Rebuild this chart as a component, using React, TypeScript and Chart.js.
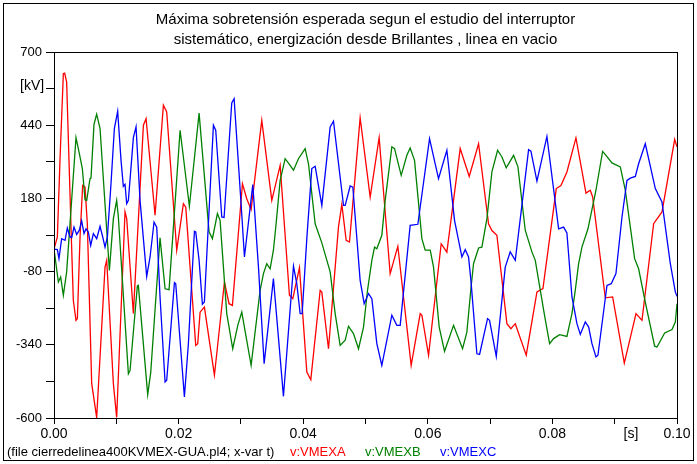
import React, { useEffect, useRef } from 'react';
import { Chart, registerables } from 'chart.js';

Chart.register(...registerables);

const FONT = '"Liberation Sans", Arial, sans-serif';

const TITLE_LINES = [
  'Máxima sobretensión esperada segun el estudio del interruptor',
  'sistemático, energización desde Brillantes , linea en vacio',
];
const Y_UNIT = '[kV]';
const X_UNIT = '[s]';
const FILE_NOTE = '(file cierredelinea400KVMEX-GUA.pl4; x-var t)';
const SERIES_NAMES = ['v:VMEXA', 'v:VMEXB', 'v:VMEXC'];
const SERIES_COLORS = ['#ff0000', '#008000', '#0000ff'];

const Y_MIN = -600;
const Y_MAX = 700;
const Y_STEP = 130;
const X_MIN = 0;
const X_MAX = 0.1;
const X_STEP = 0.01;

// [time in ms, voltage in kV]
const vmexA: [number, number][] = [
  [0, 0], [0.54, 43], [0.96, 315], [1.5, 623], [1.71, 625], [2.03, 593], [2.68, 114], [3.1, -182],
  [3.53, -253], [3.75, -247], [4.18, 43], [4.6, 226], [4.98, 220], [5.35, 90], [6.05, -478], [6.85, -598],
  [8.19, -64], [8.46, -40], [9.53, -478], [10.06, -598], [11.4, 132], [11.67, 108], [12.74, -229],
  [14.35, 440], [14.78, 463], [16.22, 120], [17.56, 511], [18.09, 487], [19.7, -4], [20.77, 161],
  [21.15, 149], [22.75, -342], [23.07, -336], [23.45, -224], [24.14, -206], [25.75, -448], [27.36, -117],
  [28.1, -194], [28.64, -200], [30.25, 232], [30.94, 179], [31.64, 140], [33.35, 457], [34.96, 173],
  [36.3, 297], [37.79, -164], [38.33, -176], [39.4, -66], [40.58, -437], [41.22, -464], [42.72, -147],
  [42.99, -153], [44.06, -354], [45.66, 78], [46.2, 159], [46.9, 31], [47.43, 25], [49.14, 466],
  [50.75, 185], [52.19, 396], [53.96, -87], [55.19, 10], [57.33, -413], [58.78, -229], [59.05, -235],
  [60.12, -377], [62.15, 19], [63.06, -11], [65.2, 357], [66.65, 258], [68.15, 374], [69.75, 90],
  [70.29, 66], [71.09, 49], [72.7, -265], [73.34, -283], [74.04, -265], [75.8, -377], [77.52, -152],
  [78.48, -140], [80.62, 215], [81.37, 226], [82.33, 274], [83.78, 395], [85.39, 199], [86.08, 209],
  [86.46, 185], [88.49, -173], [89.67, -170], [91.54, -405], [93.42, -229], [94.38, -253], [96.25, 90],
  [97.59, 132], [99.63, 390], [100, 363],
];

const vmexB: [number, number][] = [
  [0, 0], [0.7, -117], [1.07, -99], [1.5, -164], [2.03, -81], [3.53, 396], [4.07, 339], [4.55, 286],
  [4.98, 175], [5.25, 173], [5.78, 250], [5.94, 252], [6.42, 443], [6.85, 479], [7.39, 428], [8.89, -76],
  [9.53, 108], [10.06, 173], [10.33, 114], [11.94, -443], [12.21, -431], [13.38, -131], [13.54, -129],
  [15.04, -517], [15.52, -440], [17.02, 40], [17.83, -141], [18.47, -144], [20.24, 422], [21.73, 152],
  [23.29, 483], [24.89, 61], [25.43, 37], [26.23, 126], [26.66, 102], [27.73, -229], [28.69, -354],
  [29.5, -271], [30.14, -224], [31.64, -413], [33.08, -147], [33.62, -87], [34.15, -52], [34.69, -70],
  [35.22, -4], [35.65, 90], [36.3, 244], [37.1, 321], [37.9, 297], [38.44, 280], [39.24, 321],
  [40.31, 357], [40.85, 303], [41.92, 90], [42.99, 22], [44.33, -81], [45.13, -229], [45.93, -342],
  [46.74, -324], [47.27, -274], [48.07, -300], [48.88, -354], [49.68, -277], [50.32, -147], [51.02, -40],
  [51.45, 7], [51.82, 1], [52.62, 49], [53.16, 173], [54.23, 363], [54.66, 357], [55.73, 262],
  [56.64, 333], [57.17, 359], [57.87, 315], [59.05, 37], [59.58, -4], [60.39, -4], [60.92, -64],
  [61.83, -277], [62.69, -363], [64.13, -271], [65.58, -354], [66.27, -295], [66.92, -141], [67.34, -52],
  [68.15, 4], [68.68, 7], [69.49, 108], [70.29, 274], [71.2, 351], [71.9, 327], [72.59, 289], [73.77, 333],
  [74.47, 292], [75.64, 67], [76.71, -10], [77.25, -40], [78.69, -229], [79.55, -336], [80.19, -318],
  [81.16, -304], [82.33, -310], [83.14, -229], [83.67, -147], [84.21, -52], [84.74, 7], [85.71, 72],
  [86.99, 209], [88.06, 347], [88.6, 333], [89.56, 306], [90.9, 292], [91.7, 209], [93.2, -34],
  [93.84, -70], [94.91, -188], [96.41, -345], [96.79, -348], [98.02, -298], [99.2, -286], [99.73, -259],
  [100, -194],
];

const vmexC: [number, number][] = [
  [0, 0], [0.54, -2], [0.8, -34], [1.23, 37], [1.77, 31], [2.14, 75], [2.57, 43], [2.84, 41], [3.21, 78],
  [3.64, 52], [4.07, 67], [4.44, 100], [4.82, 55], [5.14, 72], [5.51, 61], [5.89, 13], [6.32, 55],
  [6.85, 37], [7.39, 81], [7.82, 43], [8.19, 7], [8.57, 43], [9.15, 232], [9.69, 428], [10.22, 489],
  [10.76, 315], [11.13, 223], [11.4, 230], [11.67, 161], [11.94, 173], [12.74, 396], [13.17, 434],
  [13.81, 173], [14.88, -97], [15.42, -28], [16.06, 96], [16.49, 78], [17.02, -170], [17.83, -472],
  [18.09, -466], [19.33, -119], [19.54, -123], [20.93, -525], [21.57, -336], [22.54, 63], [22.75, 61],
  [23.29, -40], [23.82, -196], [24.14, -188], [25.59, 440], [25.96, 422], [26.93, 114], [27.3, 112],
  [28.53, 519], [28.91, 534], [30.03, 161], [30.57, -28], [31.91, 229], [32.82, -64], [33.73, -407],
  [35.22, -105], [36.83, -523], [38.44, -61], [38.97, -123], [39.51, -229], [39.83, -229], [40.58, 37],
  [41.38, 286], [41.92, 294], [42.99, 155], [44.33, 434], [44.86, 454], [46.47, 155], [46.74, 155],
  [47.54, 224], [47.97, 220], [49.14, -111], [49.79, -194], [50.48, -158], [51.02, -176], [51.82, -336],
  [52.62, -413], [54.23, -235], [55.03, -271], [55.57, -271], [57.17, 84], [58.4, 88], [60.28, 392],
  [61.72, 250], [63.06, 351], [64.29, 102], [65.47, -28], [66.01, -2], [66.54, -28], [66.92, -111],
  [67.88, -372], [68.31, -374], [69.59, -247], [69.91, -253], [70.99, -381], [72.43, -64], [73.23, -10],
  [74.04, -40], [76.18, 353], [76.55, 348], [77.52, 241], [79.12, 400], [81.0, 72], [81.8, 78],
  [82.33, 57], [83.14, -170], [83.94, -265], [84.48, -303], [85.28, -259], [85.82, -277], [86.35, -336],
  [86.99, -383], [87.31, -377], [88.76, -129], [89.45, -123], [90.2, -87], [91.17, 114], [91.97, 244],
  [92.51, 252], [93.31, 258], [93.84, 303], [94.91, 374], [96.52, 215], [97.59, 167], [98.93, -52],
  [99.73, -152], [100, -168],
];

const SERIES = [vmexA, vmexB, vmexC];

const decorPlugin = {
  id: 'decor',
  afterDraw(chart: any) {
    const { ctx, chartArea: a } = chart;
    ctx.save();
    ctx.strokeStyle = '#000';
    ctx.lineWidth = 1;
    ctx.strokeRect(Math.round(a.left) + 0.5, Math.round(a.top) + 0.5, Math.round(a.right - a.left), Math.round(a.bottom - a.top));
    ctx.strokeRect(3.5, 3.5, 690, 457);
    ctx.fillStyle = '#000';
    ctx.font = `15px ${FONT}`;
    ctx.textBaseline = 'middle';
    ctx.textAlign = 'center';
    const cx = (a.left + a.right) / 2;
    ctx.fillText(TITLE_LINES[0], cx, 20);
    ctx.fillText(TITLE_LINES[1], cx, 40);
    ctx.font = `14px ${FONT}`;
    ctx.textAlign = 'left';
    ctx.fillText(Y_UNIT, 20, 86);
    ctx.textAlign = 'center';
    ctx.fillText(X_UNIT, 631, 434);
    ctx.font = `13px ${FONT}`;
    ctx.textAlign = 'left';
    ctx.fillText(FILE_NOTE, 7, 452);
    const nameX = [290, 365, 440];
    SERIES_NAMES.forEach((n, i) => {
      ctx.fillStyle = SERIES_COLORS[i];
      ctx.fillText(n, nameX[i], 452);
    });
    ctx.restore();
  },
};

export default function App() {
  const ref = useRef<HTMLCanvasElement>(null);
  useEffect(() => {
    if (!ref.current) return;
    const chart = new Chart(ref.current, {
      type: 'line',
      data: {
        datasets: SERIES.map((s, i) => ({
          label: SERIES_NAMES[i],
          data: s.map(([t, v]) => ({ x: t / 1000, y: v })),
          borderColor: SERIES_COLORS[i],
          backgroundColor: SERIES_COLORS[i],
          borderWidth: 1.3,
          pointRadius: 0,
          tension: 0,
          fill: false,
          order: 3 - i,
        })),
      },
      options: {
        responsive: false,
        animation: false,
        devicePixelRatio: 1,
        layout: { padding: { left: 0, top: 52, right: 20, bottom: 0 } },
        plugins: { legend: { display: false }, tooltip: { enabled: false }, title: { display: false } },
        scales: {
          x: {
            type: 'linear',
            min: X_MIN,
            max: X_MAX,
            afterFit: (s: any) => { s.height = 46; },
            ticks: {
              stepSize: X_STEP,
              autoSkip: false,
              maxRotation: 0,
              padding: 2,
              color: '#000',
              font: { family: FONT, size: 14 },
              callback: (v: any) => {
                const k = Math.round(Number(v) * 100);
                return k % 2 === 0 ? (k / 100).toFixed(2) : '';
              },
            },
            grid: { drawOnChartArea: false, drawTicks: true, tickLength: 6, color: '#000' },
            border: { display: true, color: '#000', width: 1 },
          },
          y: {
            type: 'linear',
            min: Y_MIN,
            max: Y_MAX,
            afterFit: (s: any) => { s.width = 54; },
            ticks: {
              stepSize: Y_STEP,
              autoSkip: false,
              padding: 4,
              color: '#000',
              font: { family: FONT, size: 13 },
              callback: (v: any) => {
                const k = Math.round((Y_MAX - Number(v)) / Y_STEP);
                return k % 2 === 0 ? String(Math.round(Number(v))) : '';
              },
            },
            grid: { drawOnChartArea: false, drawTicks: true, tickLength: 8, color: '#000' },
            border: { display: true, color: '#000', width: 1 },
          },
        },
      },
      plugins: [decorPlugin],
    });
    return () => chart.destroy();
  }, []);
  return (
    <div style={{ position: 'absolute', left: 0, top: 0, width: 697, height: 464, background: '#fff' }}>
      <canvas ref={ref} width={697} height={464} style={{ display: 'block' }} />
    </div>
  );
}
